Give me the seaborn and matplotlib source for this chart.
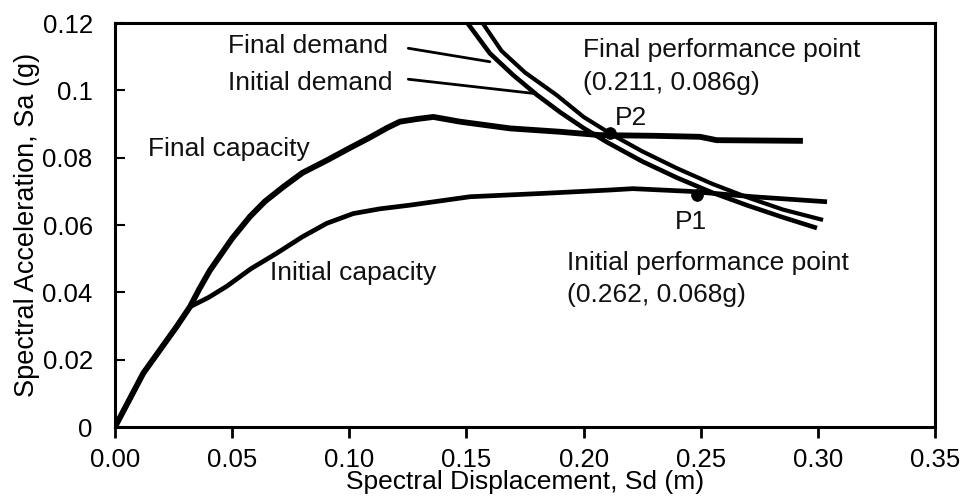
import matplotlib
matplotlib.use("Agg")
import matplotlib.pyplot as plt
import seaborn as sns
import pandas as pd

# ---- data ----
final_cap_sd = [0.0, 0.0121, 0.0263, 0.032, 0.036, 0.0405, 0.050, 0.0576, 0.064, 0.0718,
                0.080, 0.0904, 0.100, 0.1088, 0.1160, 0.1216, 0.1290, 0.1359, 0.1472,
                0.1686, 0.1899, 0.207, 0.2300, 0.2497, 0.2568, 0.2936]
final_cap_sa = [0.0, 0.016, 0.0298, 0.0357, 0.0410, 0.0465, 0.0560, 0.0625, 0.0670, 0.0713,
                0.0755, 0.0792, 0.0828, 0.0860, 0.0888, 0.0907, 0.0915, 0.0921, 0.0907,
                0.0887, 0.0877, 0.0867, 0.0865, 0.0862, 0.0852, 0.0850]

init_cap_sd = [0.0, 0.0121, 0.0263, 0.032, 0.0400, 0.0477, 0.058, 0.069, 0.080, 0.0904,
               0.1017, 0.1130, 0.1259, 0.1515, 0.1828, 0.2113, 0.221, 0.2454, 0.2723,
               0.3039]
init_cap_sa = [0.0, 0.016, 0.0298, 0.0357, 0.0385, 0.0418, 0.0470, 0.0516, 0.0565, 0.0605,
               0.0634, 0.0648, 0.0659, 0.0684, 0.0694, 0.0704, 0.0708, 0.0700, 0.0684,
               0.0669]

demand_a_sd = [0.150, 0.160, 0.170, 0.180, 0.190, 0.200, 0.210, 0.225, 0.240,
               0.255, 0.270, 0.285, 0.2996]
demand_a_sa = [0.1204, 0.1110, 0.1045, 0.0987, 0.0935, 0.0888, 0.0846, 0.0789,
               0.0740, 0.0696, 0.0658, 0.0623, 0.0591]

demand_b_sd = [0.1565, 0.165, 0.175, 0.1885, 0.200, 0.2125, 0.225, 0.240, 0.255,
               0.270, 0.285, 0.3022]
demand_b_sa = [0.1204, 0.1117, 0.1053, 0.0986, 0.0921, 0.0867, 0.0819, 0.0768,
               0.0722, 0.0682, 0.0646, 0.0615]

perf_names = ["P2", "P1"]
perf_sd = [0.2113, 0.2484]
perf_sa = [0.0873, 0.0689]

x_ticks = [0.0, 0.05, 0.10, 0.15, 0.20, 0.25, 0.30, 0.35]
x_tick_labels = ["0.00", "0.05", "0.10", "0.15", "0.20", "0.25", "0.30", "0.35"]
y_ticks = [0.0, 0.02, 0.04, 0.06, 0.08, 0.10, 0.12]
y_tick_labels = ["0", "0.02", "0.04", "0.06", "0.08", "0.1", "0.12"]

x_label = "Spectral Displacement, Sd (m)"
y_label = "Spectral Acceleration, Sa (g)"

# ---- plot ----
sns.set_style("ticks")
plt.rcParams["font.family"] = ["Liberation Sans", "DejaVu Sans"]

fig = plt.figure(figsize=(9.62, 4.97), dpi=100)
ax = fig.add_axes([0.1195, 0.1408, 0.8525, 0.8129])

def curve(sd, sa, lw):
    df = pd.DataFrame({"sd": sd, "sa": sa})
    sns.lineplot(data=df, x="sd", y="sa", ax=ax, sort=False, estimator=None,
                 color="black", linewidth=lw, solid_capstyle="butt",
                 solid_joinstyle="round")

curve(final_cap_sd, final_cap_sa, 4.2)
curve(init_cap_sd, init_cap_sa, 3.4)
curve(demand_a_sd, demand_a_sa, 3.3)
curve(demand_b_sd, demand_b_sa, 3.0)

pts = pd.DataFrame({"sd": perf_sd, "sa": perf_sa, "name": perf_names})
sns.scatterplot(data=pts, x="sd", y="sa", ax=ax, color="black", s=70,
                edgecolor="black", zorder=5)

# leader lines for the demand labels
ax.plot([0.1252, 0.1600], [0.1125, 0.1085], color="black", lw=2.0)
ax.plot([0.1252, 0.1785], [0.1033, 0.0991], color="black", lw=2.0)

fs = 19
tkw = dict(fontsize=fs, color="#111111", va="center", ha="left")
ax.text(0.0482, 0.1132, "Final demand", **tkw)
ax.text(0.0482, 0.1022, "Initial demand", **tkw)
ax.text(0.0141, 0.0826, "Final capacity", **tkw)
ax.text(0.0662, 0.0457, "Initial capacity", **tkw)
ax.text(0.1997, 0.1120, "Final performance point", **tkw)
ax.text(0.1997, 0.1022, "(0.211, 0.086g)", **tkw)
ax.text(0.2134, 0.0918, perf_names[0], **tkw)
ax.text(0.2390, 0.0609, perf_names[1], **tkw)
ax.text(0.1929, 0.0487, "Initial performance point", **tkw)
ax.text(0.1929, 0.0392, "(0.262, 0.068g)", **tkw)

ax.set_xlim(0, 0.35)
ax.set_ylim(0, 0.12)
ax.set_xticks(x_ticks)
ax.set_xticklabels(x_tick_labels)
ax.set_yticks(y_ticks)
ax.set_yticklabels(y_tick_labels)
ax.tick_params(axis="x", direction="out", length=8, width=2, labelsize=18.5,
               pad=7, colors="black")
ax.tick_params(axis="y", direction="in", length=7, width=1.5, labelsize=18.5,
               pad=16, colors="black")
ax.set_xlabel(x_label, fontsize=19, labelpad=-1, color="black")
ax.set_ylabel(y_label, fontsize=19.5, labelpad=2, color="black")

for s in ["top", "bottom", "left", "right"]:
    ax.spines[s].set_visible(True)
    ax.spines[s].set_linewidth(2.2)
    ax.spines[s].set_color("black")

fig.savefig("out.png", dpi=100, facecolor="white")
